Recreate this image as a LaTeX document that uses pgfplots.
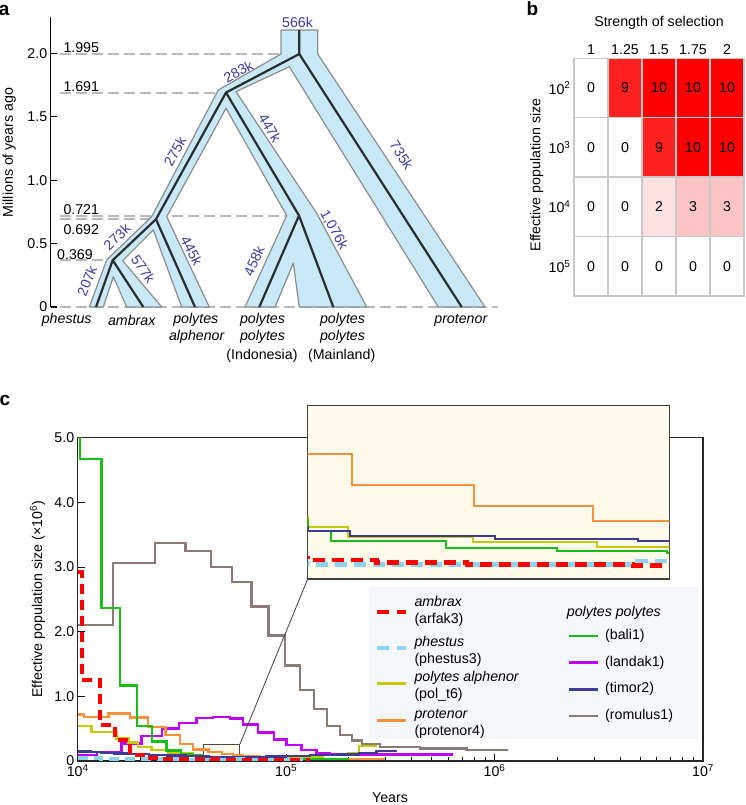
\documentclass[border=0pt]{standalone}
\usepackage{fontspec}
\setmainfont{Liberation Sans}
\usepackage{pgfplots}
\usepackage{pgfplotstable}
\pgfplotsset{compat=1.18}

\definecolor{treefill}{RGB}{199,233,248}
\definecolor{treeedge}{RGB}{140,140,140}
\definecolor{treeline}{RGB}{45,45,45}
\definecolor{reflines}{RGB}{185,185,185}
\definecolor{brlabel}{RGB}{60,60,165}
\definecolor{cgreen}{RGB}{25,190,25}
\definecolor{cred}{RGB}{255,0,0}
\definecolor{cltblue}{RGB}{141,211,240}
\definecolor{cyellow}{RGB}{200,200,10}
\definecolor{corange}{RGB}{247,145,60}
\definecolor{cpurple}{RGB}{190,0,255}
\definecolor{cnavy}{RGB}{60,60,150}
\definecolor{cbrown}{RGB}{140,122,117}
\definecolor{insety}{RGB}{254,251,235}
\definecolor{legbg}{RGB}{245,247,250}
\definecolor{gridg}{RGB}{200,200,200}

\newcommand\myfs{\fontsize{14.2}{17.3}\selectfont}
\pgfplotsset{every tick label/.append style={font=\myfs}}

% PSMC curves, years vs Ne (x 10^6)
\pgfplotstableread{
x y
10000 5.6
10257 4.67
13033 2.37
15955 1.17
19316 0.54
22793 0.30
26720 0.16
31290 0.11
35500 0.085
40000 0.0688
41290 0.0543
47650 0.0452
53806 0.0409
59853 0.038
70000 0.036
100000 0.033
150000 0.03
200000 0.03
}\bali
\pgfplotstableread{
x y
10000 2.92
10452 1.26
12790 0.556
15100 0.324
17820 0.093
20640 0.046
25000 0.035
32000 0.03
40000 0.0274
43800 0.024
48800 0.0212
58000 0.0197
65000 0.012
130000 0.012
}\arfak
\pgfplotstableread{
x y
10000 0.04
13000 0.03
20000 0.024
30000 0.022
40000 0.0212
58200 0.026
62000 0.02
120000 0.02
}\phestus
\pgfplotstableread{
x y
10000 0.54
11670 0.452
15380 0.35
17490 0.283
19530 0.22
22640 0.17
27200 0.128
35840 0.09
40000 0.0745
42249 0.0611
49124 0.0529
55980 0.0466
62000 0.045
100000 0.06
150000 0.09
198600 0.12
223400 0.236
271600 0.236
}\polt
\pgfplotstableread{
x y
10000 0.72
10720 0.684
14025 0.736
17820 0.674
21810 0.529
26430 0.40
30950 0.262
35840 0.1798
42434 0.1351
49217 0.1048
55760 0.0837
62000 0.075
75000 0.06
100000 0.045
150000 0.035
200000 0.03
296900 0.03
}\protenor
\pgfplotstableread{
x y
10000 0.093
12336 0.14
16256 0.27
20276 0.39
25455 0.505
30610 0.59
37213 0.668
44710 0.684
53770 0.66
62270 0.566
73500 0.443
87690 0.335
100550 0.247
118700 0.17
140060 0.128
162260 0.108
198600 0.103
633000 0.103
}\landak
\pgfplotstableread{
x y
10000 0.144
11500 0.135
13000 0.125
15000 0.115
18000 0.105
22000 0.095
27000 0.085
33000 0.075
40000 0.0688
42341 0.0625
50359 0.0582
58286 0.0553
65000 0.06
80000 0.07
100000 0.08
130000 0.09
180000 0.1
223400 0.12
271600 0.159
338800 0.159
}\timor
\pgfplotstableread{
x y
10000 2.10
14813 3.06
23485 3.375
32961 3.245
43582 3.0
55137 2.77
68319 2.39
82248 1.94
98680 1.48
116480 1.10
135930 0.80
156940 0.54
181130 0.40
206810 0.32
231000 0.262
281800 0.22
438300 0.196
734100 0.17
1141600 0.154
}\romulus

\begin{document}
\begin{tikzpicture}[font=\myfs]
\useasboundingbox (0pt,0pt) rectangle (745pt,805pt);

%%%%% panel a: tree
\begin{axis}[
  at={(50.7pt,498pt)}, anchor=south west, scale only axis,
  width=449.3pt, height=290.4pt,
  xmin=50.7, xmax=500, ymin=0, ymax=2.29,
  axis x line=none, axis y line=left,
  y axis line style={-, line width=1.2pt},
  ytick={0,0.5,1,1.5,2}, yticklabels={0,0.5,1.0,1.5,2.0},
  tick align=inside, major tick length=6pt,
  tick style={line width=1.2pt, black},
  clip=false,
]
\addplot[reflines, line width=2pt, dash pattern=on 11pt off 5pt] coordinates {(60,1.995) (318,1.995)};
\addplot[reflines, line width=2pt, dash pattern=on 11pt off 5pt] coordinates {(60,1.691) (226,1.691)};
\addplot[reflines, line width=2pt, dash pattern=on 11pt off 5pt] coordinates {(60,0.721) (313,0.721)};
\addplot[reflines, line width=2pt, dash pattern=on 11pt off 5pt] coordinates {(60,0.692) (166.7,0.692)};
\addplot[reflines, line width=2pt, dash pattern=on 11pt off 5pt] coordinates {(60,0.369) (106.7,0.369)};
\addplot[reflines, line width=2pt, dash pattern=on 11pt off 5pt] coordinates {(60,0) (498,0)};
\addplot[fill=treefill, draw=treeedge, line width=1.2pt, line join=round] coordinates {
(281,2.185) (317.7,2.185) (317.7,1.995) (485,0) (438.3,0) (289.3,1.895)
(236,1.698) (316.7,0.739) (366.7,0) (299.3,0) (293.3,0.345) (275,0) (245,0)
(286.7,0.721) (226,1.567) (166.7,0.712) (209.3,0) (181.7,0) (153.3,0.607)
(122.7,0.365) (161.7,0) (126.7,0) (113.3,0.239) (103.3,0) (89.3,0)
(106.7,0.371) (151.7,0.712) (218.3,1.711) (281,1.995)} --cycle;
\addplot[treeline, line width=2.2pt, line join=round] coordinates {(299.3,2.185) (299.3,1.995) (226,1.691) (156,0.692) (112.7,0.369) (96,0)};
\addplot[treeline, line width=2.2pt] coordinates {(299.3,1.995) (461.7,0)};
\addplot[treeline, line width=2.2pt, line join=round] coordinates {(226,1.691) (299,0.721) (259.3,0)};
\addplot[treeline, line width=2.2pt] coordinates {(299,0.721) (333.3,0)};
\addplot[treeline, line width=2.2pt] coordinates {(156,0.692) (195,0)};
\addplot[treeline, line width=2.2pt] coordinates {(112.7,0.369) (143.3,0)};
\end{axis}

\node[rotate=90, inner sep=0pt] at (9.2pt,652.5pt) {Millions of years ago};
\node[anchor=west, inner sep=0pt] at (63.3pt,757.5pt) {1.995};
\node[anchor=west, inner sep=0pt] at (63.3pt,718.3pt) {1.691};
\node[anchor=west, inner sep=0pt] at (63.3pt,595pt) {0.721};
\node[anchor=west, inner sep=0pt] at (63.3pt,575pt) {0.692};
\node[anchor=west, inner sep=0pt] at (57pt,550pt) {0.369};

\begin{scope}[every node/.style={text=brlabel, inner sep=0pt}]
\node at (297.5pt,783pt) {566k};
\node[rotate=28] at (238.3pt,733.3pt) {283k};
\node[rotate=-60] at (270pt,677pt) {447k};
\node[rotate=61] at (175pt,653.3pt) {275k};
\node[rotate=-57] at (401.7pt,650pt) {735k};
\node[rotate=-61] at (334pt,575pt) {1,076k};
\node[rotate=44] at (117pt,568.3pt) {273k};
\node[rotate=-56] at (143.3pt,536pt) {577k};
\node[rotate=-63] at (191.7pt,554pt) {445k};
\node[rotate=68] at (87pt,524pt) {207k};
\node[rotate=66] at (254pt,544pt) {458k};
\end{scope}

\begin{scope}[every node/.style={inner sep=0pt}]
\node[font=\myfs\itshape] at (66.7pt,485pt) {phestus};
\node[font=\myfs\itshape] at (131.7pt,485pt) {ambrax};
\node[font=\myfs\itshape] at (195.8pt,485pt) {polytes};
\node[font=\myfs\itshape] at (196.7pt,468.3pt) {alphenor};
\node[font=\myfs\itshape] at (262.5pt,485pt) {polytes};
\node[font=\myfs\itshape] at (262.5pt,468.3pt) {polytes};
\node at (262pt,449pt) {(Indonesia)};
\node[font=\myfs\itshape] at (342.5pt,485pt) {polytes};
\node[font=\myfs\itshape] at (342.5pt,468.3pt) {polytes};
\node at (341.7pt,449pt) {(Mainland)};
\node[font=\myfs\itshape] at (460.8pt,485pt) {protenor};
\end{scope}

%%%%% panel b: heatmap
\begin{axis}[
  at={(574pt,746.7pt)}, anchor=north west, scale only axis,
  width=170pt, height=237.7pt,
  xmin=0.5, xmax=5.5, ymin=0.5, ymax=4.5, y dir=reverse,
  xtick={1,2,3,4,5}, xticklabels={1,1.25,1.5,1.75,2}, xticklabel pos=right,
  ytick={1,2,3,4},
  yticklabels={10\textsuperscript{2},10\textsuperscript{3},10\textsuperscript{4},10\textsuperscript{5}},
  minor xtick={1.5,2.5,3.5,4.5}, minor ytick={1.5,2.5,3.5},
  grid=minor, minor grid style={gridg, line width=1.3pt},
  major tick length=0pt, minor tick length=0pt,
  axis line style={gridg, line width=1.3pt},
  axis on top,
  colormap={wr}{rgb255(0)=(255,255,255) rgb255(2)=(253,226,226) rgb255(3)=(252,196,196) rgb255(9)=(255,32,32) rgb255(10)=(255,0,0)},
  point meta min=0, point meta max=10,
]
\addplot[matrix plot*, mesh/cols=5, point meta=explicit] coordinates {
(1,1) [0] (2,1) [9] (3,1) [10] (4,1) [10] (5,1) [10]
(1,2) [0] (2,2) [0] (3,2) [9] (4,2) [10] (5,2) [10]
(1,3) [0] (2,3) [0] (3,3) [2] (4,3) [3] (5,3) [3]
(1,4) [0] (2,4) [0] (3,4) [0] (4,4) [0] (5,4) [0]
};
\addplot[only marks, mark=none, point meta=explicit symbolic, nodes near coords,
  every node near coord/.append style={anchor=center, font=\myfs, text=black}] coordinates {
(1,1) [0] (2,1) [9] (3,1) [10] (4,1) [10] (5,1) [10]
(1,2) [0] (2,2) [0] (3,2) [9] (4,2) [10] (5,2) [10]
(1,3) [0] (2,3) [0] (3,3) [2] (4,3) [3] (5,3) [3]
(1,4) [0] (2,4) [0] (3,4) [0] (4,4) [0] (5,4) [0]
};
\end{axis}
\node[inner sep=0pt] at (659pt,782.3pt) {Strength of selection};
\node[rotate=90, inner sep=0pt] at (536.7pt,630pt) {Effective population size};

%%%%% panel c: PSMC
\begin{axis}[
  at={(77.7pt,44pt)}, anchor=south west, scale only axis,
  width=625.3pt, height=323.3pt,
  xmode=log, xmin=1e4, xmax=1e7, ymin=0, ymax=5,
  xtick={1e4,1e5,1e6,1e7},
  xticklabels={10\textsuperscript{4},10\textsuperscript{5},10\textsuperscript{6},10\textsuperscript{7}},
  minor xtick={2e4,3e4,4e4,5e4,6e4,7e4,8e4,9e4,2e5,3e5,4e5,5e5,6e5,7e5,8e5,9e5,2e6,3e6,4e6,5e6,6e6,7e6,8e6,9e6},
  ytick={0,1,2,3,4,5}, yticklabels={0,1.0,2.0,3.0,4.0,5.0},
  tick pos=left, tick align=inside,
  major tick length=7pt, minor tick length=4pt,
  axis line style={line width=1.2pt, black!85},
  tick style={line width=1pt, black},
]
\addplot[fill=insety, draw=black!70, line width=1pt] coordinates {(40000,0) (60000,0) (60000,0.26) (40000,0.26)} --cycle;
\coordinate (zb) at (axis cs:60000,0.26);
\addplot[const plot, no marks, cbrown, line width=2.4pt] table {\romulus};
\addplot[const plot, no marks, cpurple, line width=2.4pt] table {\landak};
\addplot[const plot, no marks, corange, line width=2.4pt] table {\protenor};
\addplot[const plot, no marks, cyellow, line width=2.4pt] table {\polt};
\addplot[const plot, no marks, cgreen, line width=2.4pt] table {\bali};
\addplot[const plot, no marks, cnavy, line width=2.4pt] table {\timor};
\addplot[const plot, no marks, cltblue, line width=4pt, dash pattern=on 10pt off 6pt] table {\phestus};
\addplot[const plot, no marks, cred, line width=4pt, dash pattern=on 10pt off 6pt] table {\arfak};
\end{axis}

% inset (zoom of 4-6 x 10^4 years)
\begin{axis}[
  at={(307.7pt,399.3pt)}, anchor=north west, scale only axis,
  width=361.6pt, height=173.3pt,
  xmin=40000, xmax=60000, ymin=0, ymax=0.25,
  ticks=none,
  axis background/.style={fill=insety},
  axis line style={line width=1.1pt, black!75},
  every axis plot/.append style={const plot, no marks, restrict x to domain=30000:70000},
]
\addplot[corange, line width=1.8pt] table {\protenor};
\addplot[cyellow, line width=1.8pt] table {\polt};
\addplot[cgreen, line width=1.8pt] table {\bali};
\addplot[cnavy, line width=1.8pt] table {\timor};
\addplot[cltblue, line width=4.5pt, dash pattern=on 12pt off 7pt] table {\phestus};
\addplot[cred, line width=4.5pt, dash pattern=on 12pt off 7pt] table {\arfak};
\end{axis}
\draw[black!75, line width=0.8pt] (zb) -- (307.7pt,226pt);

\node[rotate=90, inner sep=0pt] at (37.5pt,205.7pt) {Effective population size (×10\textsuperscript{6})};
\node[inner sep=0pt] at (390pt,7pt) {Years};

% legend
\fill[legbg] (369.3pt,218.3pt) rectangle (698.3pt,65.7pt);
\draw[cred, line width=4pt, dash pattern=on 12pt off 7.5pt] (377.3pt,193.3pt) -- (406pt,193.3pt);
\draw[cltblue, line width=4pt, dash pattern=on 12pt off 7.5pt] (377.3pt,157.3pt) -- (406pt,157.3pt);
\draw[cyellow, line width=2.8pt] (377.3pt,121.7pt) -- (406pt,121.7pt);
\draw[corange, line width=2.8pt] (377.3pt,84.3pt) -- (406pt,84.3pt);
\begin{scope}[every node/.style={anchor=west, align=left, inner sep=0pt}]
\node at (414.3pt,193.7pt) {\textit{ambrax}\\(arfak3)};
\node at (414.3pt,153.8pt) {\textit{phestus}\\(phestus3)};
\node at (414.3pt,118.8pt) {\textit{polytes alphenor}\\(pol\_t6)};
\node at (414.3pt,81pt) {\textit{protenor}\\(protenor4)};
\node[font=\myfs\itshape] at (566.7pt,191.7pt) {polytes polytes};
\node at (605pt,169pt) {(bali1)};
\node at (605pt,142.3pt) {(landak1)};
\node at (605pt,115.7pt) {(timor2)};
\node at (605pt,89pt) {(romulus1)};
\end{scope}
\draw[cgreen, line width=2.8pt] (569.3pt,169pt) -- (597.7pt,169pt);
\draw[cpurple, line width=2.8pt] (569.3pt,142.3pt) -- (597.7pt,142.3pt);
\draw[cnavy, line width=2.8pt] (569.3pt,115.7pt) -- (597.7pt,115.7pt);
\draw[cbrown, line width=2.8pt] (569.3pt,89pt) -- (597.7pt,89pt);

% panel letters
\node[font=\fontsize{19}{20}\selectfont\bfseries, inner sep=0pt] at (4.2pt,795pt) {a};
\node[font=\fontsize{19}{20}\selectfont\bfseries, inner sep=0pt] at (532.5pt,795.8pt) {b};
\node[font=\fontsize{19}{20}\selectfont\bfseries, inner sep=0pt] at (5pt,405pt) {c};
\end{tikzpicture}
\end{document}
